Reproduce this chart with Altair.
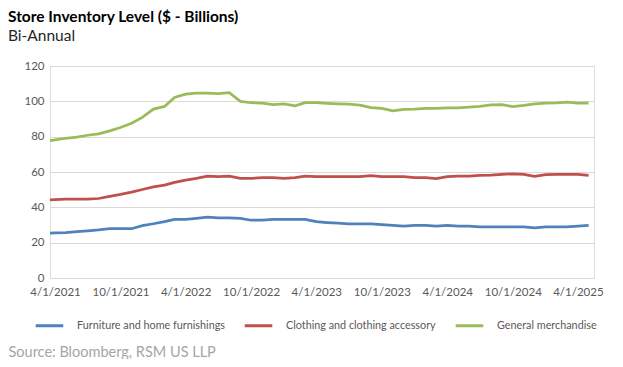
import altair as alt
import pandas as pd

# Monthly observations, Mar-2021 .. May-2025 (Mar-2021 lies just left of the axis and is clipped)
months = pd.date_range("2021-03-01", "2025-05-01", freq="MS").strftime("%Y-%m-%d").tolist()

furniture = [25.2,
             25.5, 25.7, 26.3, 26.7, 27.2, 27.9, 27.9, 27.9, 29.6, 30.7,
             31.9, 33.2, 33.2, 33.8, 34.5, 34.1, 34.1, 33.8, 32.7, 32.7,
             33.2, 33.2, 33.2, 33.2, 31.9, 31.4, 31.0, 30.6, 30.6, 30.6,
             30.2, 29.8, 29.3, 29.8, 29.8, 29.3, 29.8, 29.3, 29.3, 28.9,
             28.9, 28.9, 28.9, 28.9, 28.4, 28.9, 28.9, 28.9, 29.3, 29.8]
clothing = [44.0,
            44.3, 44.6, 44.6, 44.6, 45.0, 46.2, 47.3, 48.6, 50.1, 51.6,
            52.6, 54.1, 55.4, 56.4, 57.7, 57.4, 57.7, 56.4, 56.4, 56.8,
            56.8, 56.4, 56.8, 57.7, 57.4, 57.4, 57.4, 57.4, 57.4, 58.0,
            57.4, 57.4, 57.4, 56.8, 56.8, 56.2, 57.4, 57.7, 57.7, 58.1,
            58.3, 58.7, 59.0, 58.7, 57.5, 58.5, 58.7, 58.7, 58.7, 58.1]
general = [77.3,
           78.2, 79.1, 79.7, 80.8, 81.6, 83.3, 85.2, 87.6, 90.9, 95.6,
           97.1, 102.2, 104.1, 104.7, 104.7, 104.3, 104.9, 100.0, 99.2, 99.0,
           98.2, 98.6, 97.5, 99.2, 99.2, 98.9, 98.6, 98.4, 97.8, 96.5,
           96.0, 94.6, 95.5, 95.6, 96.0, 96.0, 96.3, 96.3, 96.7, 97.1,
           98.0, 98.1, 97.0, 97.7, 98.6, 99.0, 99.1, 99.5, 99.0, 99.0]

series_names = ["Furniture and home furnishings", "Clothing and clothing accessory", "General merchandise"]
series_colors = ["#4F81BD", "#C0504D", "#9BBB59"]
y_ticks = [0, 20, 40, 60, 80, 100, 120]
x_tick_dates = [(2021, 4), (2021, 10), (2022, 4), (2022, 10), (2023, 4), (2023, 10),
                (2024, 4), (2024, 10), (2025, 4)]

rows = []
for name, vals in zip(series_names, [furniture, clothing, general]):
    for d, v in zip(months, vals):
        rows.append({"date": d, "series": name, "value": v})
df = pd.DataFrame(rows)

FONT = "Lato"

x_enc = alt.X(
    "date:T",
    scale=alt.Scale(type="utc",
                    domain=[alt.DateTime(year=2021, month=3, date=18, utc=True),
                            alt.DateTime(year=2025, month=5, date=16, utc=True)]),
    axis=alt.Axis(
        values=[alt.DateTime(year=y, month=m, date=1, utc=True) for y, m in x_tick_dates],
        labelExpr="utcFormat(datum.value, '%-m/%-d/%Y')",
        grid=False, ticks=False, domain=False,
        labelColor="#595959", labelFontSize=11.5, labelFont=FONT, labelPadding=8,
        title="Source: Bloomberg, RSM US LLP",
        titleFont=FONT, titleFontSize=14.5, titleFontWeight="normal", titleColor="#A6A6A6",
        titleAnchor="start", titleAlign="left", titleBaseline="alphabetic",
        titleX=-42, titleY=78,
    ),
)

y_enc = alt.Y(
    "value:Q",
    scale=alt.Scale(domain=[0, 120], nice=False, zero=True),
    axis=alt.Axis(
        values=y_ticks, grid=True, gridColor="#D9D9D9", gridWidth=1,
        ticks=False, domain=False, title=None,
        labelColor="#595959", labelFontSize=11.5, labelFont=FONT, labelPadding=6,
    ),
)

color_enc = alt.Color(
    "series:N",
    scale=alt.Scale(domain=series_names, range=series_colors),
    sort=series_names,
    legend=alt.Legend(
        orient="none", direction="horizontal", legendX=-16, legendY=244,
        title=None, symbolType="stroke", symbolSize=760, symbolStrokeWidth=3,
        labelFont=FONT, labelFontSize=10.8, labelColor="#595959", labelOffset=12,
        columnPadding=13, columns=3,
    ),
)

chart = (
    alt.Chart(df)
    .mark_line(strokeWidth=2.75, clip=True)
    .encode(x=x_enc, y=y_enc, color=color_enc, detail="series:N")
    .properties(
        width=544, height=212,
        autosize=alt.AutoSizeParams(type="none"),
        padding={"left": 42, "top": 58, "right": 21, "bottom": 81},
        title=alt.TitleParams(
            text="Store Inventory Level ($ - Billions)",
            subtitle="Bi-Annual",
            anchor="start", frame="group", dx=-42, offset=16,
            font=FONT, fontSize=15.5, fontWeight="bold", color="#000000",
            subtitleFont=FONT, subtitleFontSize=15.5, subtitleColor="#262626",
            subtitlePadding=3,
        ),
    )
    .configure_view(stroke=None)
    .configure(background="white")
)

chart.save("out.html", embed_options={"renderer": "svg", "actions": False})
